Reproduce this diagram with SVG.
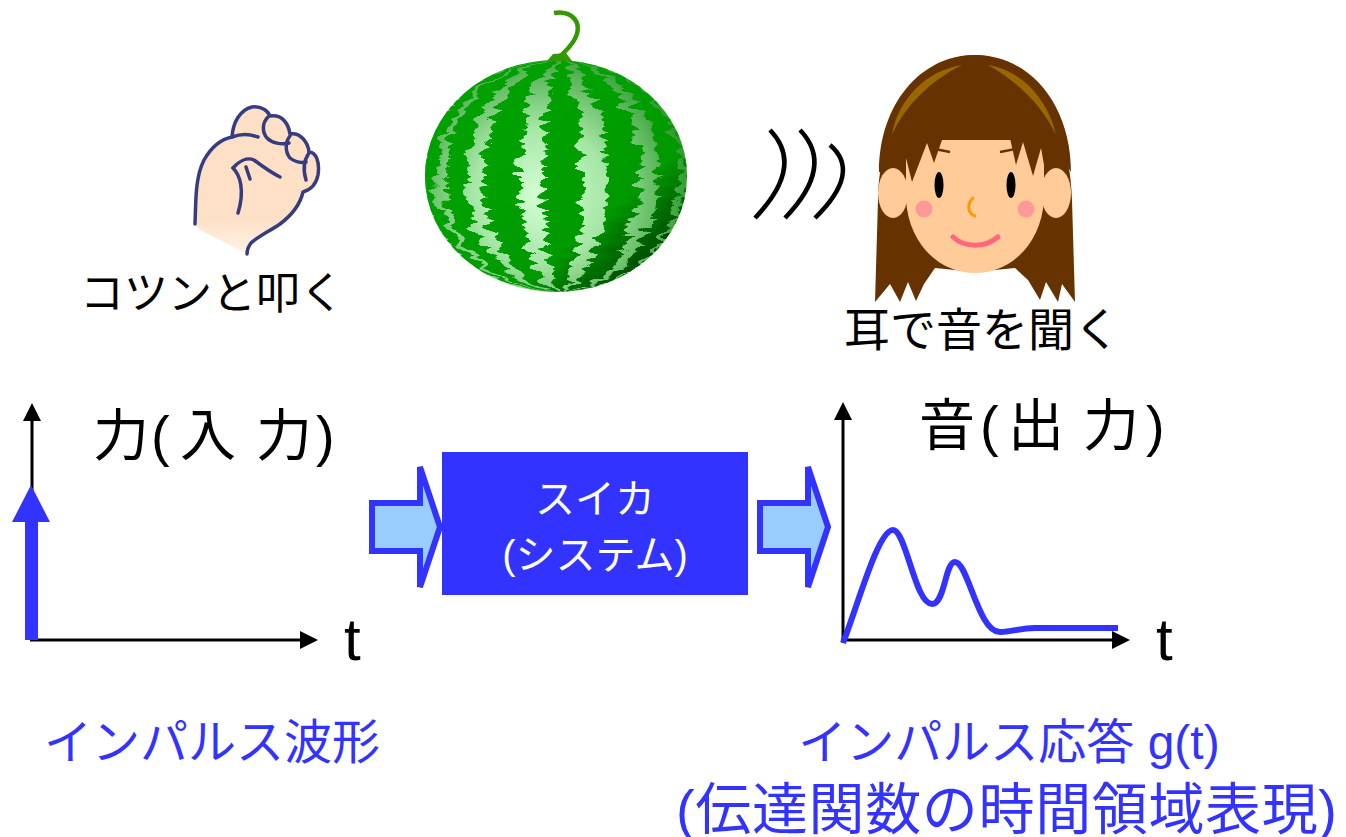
<svg xmlns="http://www.w3.org/2000/svg" width="1346" height="837" viewBox="0 0 1346 837">
  <style>
    .jp { font-family: "Liberation Sans", "Noto Sans CJK JP", sans-serif; }
    .black { fill: #000000; }
    .blue { fill: #3333ff; }
    .white { fill: #ffffff; }
    .axis { stroke: #000000; stroke-width: 3; fill: none; }
    .wave { stroke: #000000; stroke-width: 4.5; fill: none; stroke-linecap: butt; }
    .fistline { stroke: #363c80; stroke-width: 3.5; fill: none; stroke-linecap: round; stroke-linejoin: round; }
    .blockarrow { fill: #99ccff; stroke: #3333ff; stroke-width: 6; stroke-linejoin: miter; }
    .hair { fill: #663300; }
    .skin { fill: #ffcc99; }
  </style>
  <defs>
    <marker id="axisHead" markerUnits="userSpaceOnUse" markerWidth="18" markerHeight="18" refX="10" refY="9" orient="auto">
      <path d="M0,0 L18,9 L0,18 Z" fill="#000000"/>
    </marker>
    <radialGradient id="melonBody" cx="540" cy="195" r="150" gradientUnits="userSpaceOnUse">
      <stop offset="0" stop-color="#d4ffd4"/>
      <stop offset="0.45" stop-color="#a6e6a6"/>
      <stop offset="0.8" stop-color="#5cb85c"/>
      <stop offset="1" stop-color="#2e9a2e"/>
    </radialGradient>
    <linearGradient id="melonStripe" x1="520" y1="140" x2="650" y2="290" gradientUnits="userSpaceOnUse">
      <stop offset="0" stop-color="#00a000"/>
      <stop offset="0.55" stop-color="#009900"/>
      <stop offset="0.8" stop-color="#005a00"/>
      <stop offset="1" stop-color="#002800"/>
    </linearGradient>
    <clipPath id="melonClip">
      <ellipse cx="556" cy="176" rx="131" ry="116"/>
    </clipPath>
    <filter id="jagged" x="-20%" y="-5%" width="140%" height="110%">
      <feTurbulence type="turbulence" baseFrequency="0.02 0.09" numOctaves="2" seed="7" result="noise"/>
      <feColorMatrix in="noise" type="matrix" values="1 0 0 0 0  0 0 0 0 0.5  0 0 0 0 0  0 0 0 0 1" result="dx"/>
      <feDisplacementMap in="SourceGraphic" in2="dx" scale="24" xChannelSelector="R" yChannelSelector="G"/>
    </filter>
    <linearGradient id="wrist" x1="0" y1="0" x2="0" y2="1">
      <stop offset="0.75" stop-color="#fde0c6"/>
      <stop offset="1" stop-color="#fff2e6"/>
    </linearGradient>
  </defs>

  <rect width="1346" height="837" fill="#ffffff"/>

  <!-- fist -->
  <g id="fist">
    <path d="M195,224 C196,200 195,178 204,160 C212,146 222,139 232,137 C233,122 240,110 252,107 C262,106 268,111 270,116 C280,114 288,121 290,134 C300,132 308,142 309,152 C316,152 320,162 318,175 C316,185 310,190 303,192 C300,205 292,215 280,224 C268,232 256,238 251,243 C248,247 247,250 247,254 L200,230 Z" fill="url(#wrist)"/>
    <path class="fistline" d="M195,224 C196,200 195,178 204,160 C212,146 222,139 232,137 C233,122 240,110 252,107 C262,106 268,111 270,116 C280,114 288,121 290,134 C300,132 308,142 309,152 C316,152 320,162 318,175 C316,185 310,190 303,192 C300,205 292,215 280,224 C268,232 256,238 251,243 C248,247 247,250 247,254"/>
    <path class="fistline" d="M268,117 C262,123 262,132 267,138 C272,143 281,145 289,143"/>
    <path class="fistline" d="M290,136 C285,142 285,152 290,158 C295,162 301,163 306,162"/>
    <path class="fistline" d="M309,153 C304,160 303,170 306,180"/>
    <path class="fistline" d="M232,137 C240,134 250,134 258,137"/>
    <path class="fistline" d="M233,168 C239,161 247,157 254,160 C262,166 270,172 280,177"/>
    <path class="fistline" d="M233,168 C240,175 245,190 238,213"/>
    <path class="fistline" d="M246,167 L250,179"/>
  </g>

  <!-- watermelon -->
  <g id="watermelon">
    <ellipse cx="556" cy="176" rx="131" ry="116" fill="url(#melonBody)"/>
    <g clip-path="url(#melonClip)">
      <g filter="url(#jagged)" fill="url(#melonStripe)">
        <path d="M556,60 A20,116 0 0 1 556,292 A20,116 0 0 1 556,60 Z"/>
        <path d="M556,60 A79,116 0 0 1 556,292 A43,116 0 0 0 556,60 Z"/>
        <path d="M556,60 A79,116 0 0 0 556,292 A43,116 0 0 1 556,60 Z"/>
        <path d="M556,60 A119,116 0 0 1 556,292 A96,116 0 0 0 556,60 Z"/>
        <path d="M556,60 A119,116 0 0 0 556,292 A96,116 0 0 1 556,60 Z"/>
        <path d="M556,60 A142,116 0 0 1 556,292 A127,116 0 0 0 556,60 Z"/>
        <path d="M556,60 A142,116 0 0 0 556,292 A127,116 0 0 1 556,60 Z"/>
      </g>
    </g>
    <path d="M547,61 L553,54 L566,53 L572,61 Z" fill="#339900"/>
    <path d="M558,58 C571,47 581,35 577,23 C573,14 563,11 554,13" stroke="#339900" stroke-width="4.5" fill="none"/>
  </g>

  <!-- sound waves -->
  <g id="sound-waves">
    <path class="wave" d="M770,130 Q805,166 755,218"/>
    <path class="wave" d="M800,130 Q835,166 785,218"/>
    <path class="wave" d="M830,145 Q862,172 815,218"/>
  </g>

  <!-- listener -->
  <g id="listener">
    <path class="hair" d="M875,302 L878,200 C880,120 920,55 975,55 C1030,55 1070,120 1072,200 L1075,302 L1062,284 L1058,302 L1046,282 L1040,300 L1028,280 L1015,268 L975,272 L935,268 L924,284 L916,301 L908,282 L900,302 L890,284 Z"/>
    <path class="skin" d="M906,140 L906,200 C909,245 940,273 975,273 C1010,273 1041,245 1044,200 L1044,140 Z"/>
    <path class="hair" d="M879,172 C879,105 920,55 975,55 C1030,55 1071,105 1071,172 L1058,150 L1047,182 L1041,148 L1033,176 L1023,142 L1016,165 L1009,134 C1000,118 990,108 975,103 C962,110 950,123 942,140 L934,163 L927,143 L912,182 L904,150 L893,172 Z"/>
    <ellipse class="skin" cx="893" cy="193" rx="15" ry="25"/>
    <ellipse class="skin" cx="1056" cy="193" rx="15" ry="25"/>
    <path d="M892,135 C898,98 928,70 962,65 C932,80 905,105 892,135 Z" fill="#996600"/>
    <path d="M988,65 C1020,70 1048,98 1056,135 C1042,105 1018,82 988,65 Z" fill="#996600"/>
    <path d="M930,148 L950,152 M1000,152 L1021,148" stroke="#663300" stroke-width="2.5" fill="none"/>
    <ellipse cx="939" cy="185" rx="4.5" ry="13" fill="#000000"/>
    <ellipse cx="1011" cy="185" rx="4.5" ry="13" fill="#000000"/>
    <circle cx="924" cy="209" r="8.5" fill="#ff9999"/>
    <circle cx="1026" cy="209" r="8.5" fill="#ff9999"/>
    <path d="M973,198 C967,204 967,213 975,216" stroke="#ff9900" stroke-width="3" fill="none" stroke-linecap="round"/>
    <path d="M953,237 C965,248 985,248 998,237" stroke="#ff6680" stroke-width="5" fill="none" stroke-linecap="round"/>
  </g>

  <!-- top captions -->
  <g id="caption-tap">
    <text class="jp black" x="212" y="309" font-size="44" text-anchor="middle">コツンと叩く</text>
  </g>
  <g id="caption-listen">
    <text class="jp black" x="982" y="346" font-size="46" text-anchor="middle">耳で音を聞く</text>
  </g>

  <!-- input plot -->
  <g id="input-plot">
    <line class="axis" x1="32" y1="641" x2="32" y2="411" marker-end="url(#axisHead)"/>
    <line class="axis" x1="30" y1="640" x2="310" y2="640" marker-end="url(#axisHead)"/>
    <rect x="25" y="521" width="13" height="119" fill="#3333ff"/>
    <path d="M12,522 L50,522 L31,485 Z" fill="#3333ff"/>
    <text class="jp black" y="455" font-size="56"><tspan x="93">力</tspan><tspan x="151">(</tspan><tspan x="180">入</tspan><tspan x="256">力</tspan><tspan x="316">)</tspan></text>
    <text class="jp black" x="344" y="660" font-size="60">t</text>
  </g>

  <!-- system block -->
  <g id="arrow-in">
    <path class="blockarrow" d="M372,503 L420,503 L420,467 L440,527 L420,587 L420,551 L372,551 Z"/>
  </g>
  <g id="system">
    <rect x="442" y="452" width="306" height="143" fill="#3333ff"/>
    <text class="jp white" x="595" y="513" font-size="40" text-anchor="middle">スイカ</text>
    <text class="jp white" x="595" y="569" font-size="40" text-anchor="middle">(システム)</text>
  </g>
  <g id="arrow-out">
    <path class="blockarrow" d="M760,503 L808,503 L808,467 L828,527 L808,587 L808,551 L760,551 Z"/>
  </g>

  <!-- output plot -->
  <g id="output-plot">
    <line class="axis" x1="843" y1="643" x2="843" y2="410" marker-end="url(#axisHead)"/>
    <line class="axis" x1="841" y1="640" x2="1122" y2="640" marker-end="url(#axisHead)"/>
    <path d="M843,643 C858,605 878,530 893,530 C906,530 915,604 932,604 C945,604 945,562 955,562 C968,562 978,632 1000,632 C1012,632 1020,628 1035,628 L1118,628" stroke="#3333ff" stroke-width="6" fill="none"/>
    <text class="jp black" y="445" font-size="56"><tspan x="919">音</tspan><tspan x="980">(</tspan><tspan x="1008">出</tspan><tspan x="1083">力</tspan><tspan x="1146">)</tspan></text>
    <text class="jp black" x="1156" y="660" font-size="60">t</text>
  </g>

  <!-- bottom captions -->
  <g id="caption-impulse">
    <text class="jp blue" x="212" y="759" font-size="48" text-anchor="middle">インパルス波形</text>
  </g>
  <g id="caption-response">
    <text class="jp blue" x="1009" y="759" font-size="48" text-anchor="middle">インパルス応答 g(t)</text>
    <text class="jp blue" x="676" y="829" font-size="56" textLength="661" lengthAdjust="spacing">(伝達関数の時間領域表現)</text>
  </g>
</svg>
